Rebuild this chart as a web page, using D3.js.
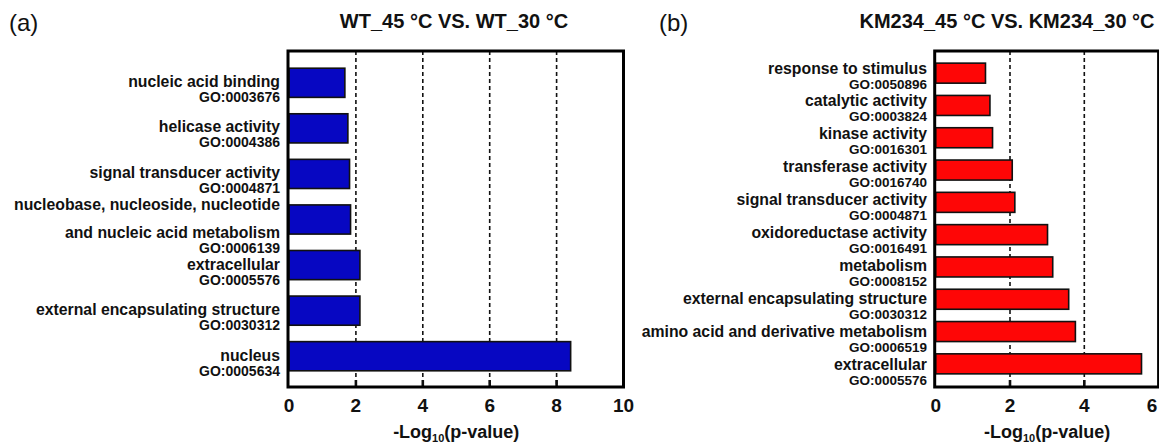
<!DOCTYPE html>
<html><head><meta charset="utf-8">
<script src="https://cdn.jsdelivr.net/npm/d3@7"></script>
<style>
html,body{margin:0;padding:0;background:#fff;}
svg{display:block;font-family:"Liberation Sans",Arial,Helvetica,sans-serif;}
</style></head>
<body><svg id="c" width="1159" height="443"></svg>
<script>
// ---------- data ----------
const titleA = "WT_45 °C VS. WT_30 °C";
const catsA = ["nucleic acid binding", "helicase activity", "signal transducer activity",
  "nucleobase, nucleoside, nucleotide\nand nucleic acid metabolism", "extracellular",
  "external encapsulating structure", "nucleus"];
const goA = ["GO:0003676", "GO:0004386", "GO:0004871", "GO:0006139", "GO:0005576", "GO:0030312", "GO:0005634"];
const valsA = [1.67, 1.76, 1.81, 1.84, 2.12, 2.12, 8.42];
const ticksA = [0, 2, 4, 6, 8, 10];

const titleB = "KM234_45 °C VS. KM234_30 °C";
const catsB = ["response to stimulus", "catalytic activity", "kinase activity", "transferase activity",
  "signal transducer activity", "oxidoreductase activity", "metabolism",
  "external encapsulating structure", "amino acid and derivative metabolism", "extracellular"];
const goB = ["GO:0050896", "GO:0003824", "GO:0016301", "GO:0016740", "GO:0004871",
  "GO:0016491", "GO:0008152", "GO:0030312", "GO:0006519", "GO:0005576"];
const valsB = [1.34, 1.46, 1.53, 2.06, 2.13, 3.01, 3.15, 3.58, 3.76, 5.54];
const ticksB = [0, 2, 4, 6];

const svg = d3.select("#c");
const W = 1159;

function panel(o) {
  const g = svg.append("g");
  const x = d3.scaleLinear().domain([0, o.max]).range(o.xr);
  const y = d3.scaleBand().domain(o.cats).range(o.yr).paddingInner(o.pad).paddingOuter(o.pad / 2);
  const top = 51, bot = 387;

  g.append("text").attr("x", o.letterX).attr("y", 31).attr("font-size", 24)
    .attr("fill", "#111").text(o.letter);
  g.append("text").attr("x", o.titleX).attr("y", 28).attr("text-anchor", "middle")
    .attr("font-size", 20).attr("font-weight", "bold").attr("fill", "#111").text(o.title);

  const inner = o.ticks.filter(t => t > 0 && t < o.max);
  g.selectAll("line.grid").data(inner).join("line")
    .attr("x1", d => x(d)).attr("x2", d => x(d)).attr("y1", top).attr("y2", bot)
    .attr("stroke", "#111").attr("stroke-width", 1.6).attr("stroke-dasharray", "4,3");
  g.selectAll("line.tk").data(inner).join("line")
    .attr("x1", d => x(d)).attr("x2", d => x(d)).attr("y1", bot - 7).attr("y2", bot)
    .attr("stroke", "#111").attr("stroke-width", 2.6);

  g.selectAll("rect.bar").data(o.cats).join("rect")
    .attr("x", x(0)).attr("y", d => y(d))
    .attr("width", (d, i) => x(o.vals[i]) - x(0)).attr("height", y.bandwidth())
    .attr("fill", o.color).attr("stroke", "#111").attr("stroke-width", 1.6);

  g.append("rect").attr("x", x(0) - 1).attr("y", top).attr("width", x(o.max) - x(0) + 1)
    .attr("height", bot - top).attr("fill", "none").attr("stroke", "#000").attr("stroke-width", 3);

  const yl = d3.scalePoint().domain(o.cats).range(o.labR);
  o.cats.forEach((c, i) => {
    const lines = c.split("\n");
    const last = yl(c) + (lines.length - 1) * o.multiShift;
    lines.forEach((ln, j) => {
      g.append("text").attr("x", o.labX).attr("y", last - (lines.length - 1 - j) * 27.5)
        .attr("text-anchor", "end").attr("font-size", o.nameSize).attr("font-weight", "bold")
        .attr("fill", "#111").text(ln);
    });
    g.append("text").attr("x", o.labX).attr("y", last + o.goGap)
      .attr("text-anchor", "end").attr("font-size", o.goSize).attr("font-weight", "bold")
      .attr("fill", "#111").text(o.go[i]);
  });

  g.selectAll("text.tl").data(o.ticks).join("text")
    .attr("x", d => Math.min(x(d), W - 7)).attr("y", 412).attr("text-anchor", "middle")
    .attr("font-size", 19).attr("font-weight", "bold").attr("fill", "#111").text(d => d);

  const t = g.append("text").attr("x", x(o.max / 2)).attr("y", 438).attr("text-anchor", "middle")
    .attr("font-size", 18).attr("font-weight", "bold").attr("fill", "#111");
  t.append("tspan").text("-Log");
  t.append("tspan").attr("font-size", 11).attr("dy", 4).text("10");
  t.append("tspan").attr("dy", -4).text("(p-value)");
}

panel({letter: "(a)", letterX: 9, title: titleA, titleX: 454, cats: catsA, go: goA, vals: valsA,
  ticks: ticksA, max: 10, xr: [289, 623.5], yr: [60, 379], pad: 0.36, color: "#0707c2",
  labX: 280, labR: [86.5, 361], multiShift: 14, goGap: 15, nameSize: 15.8, goSize: 14});
panel({letter: "(b)", letterX: 659, title: titleB, titleX: 1007, cats: catsB, go: goB, vals: valsB,
  ticks: ticksB, max: 6, xr: [935.7, 1158.6], yr: [57, 380], pad: 0.38, color: "#fe0606",
  labX: 927, labR: [73.5, 370], multiShift: 0, goGap: 15, nameSize: 15.8, goSize: 13.5});
</script>
</body></html>
